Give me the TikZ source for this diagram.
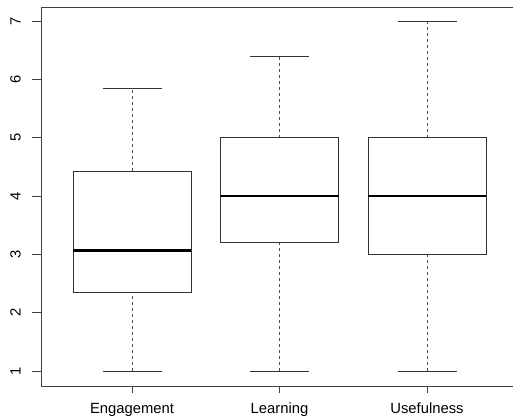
\documentclass[tikz,border=0pt]{standalone}
\usepackage{fontspec}
\setmainfont{Liberation Sans}
\begin{document}
\begin{tikzpicture}[x=1pt, y=58.33pt,
  every node/.style = {font=\fontsize{14.8}{17}\selectfont, inner sep=0pt},
  frame/.style = {draw=black!75, line width=0.8pt},
  boxline/.style = {draw=black!80, line width=0.7pt},
  whisker/.style = {draw=black!70, line width=0.7pt, dash pattern=on 3pt off 3pt},
  median/.style = {draw=black, line width=2.6pt},
  tickline/.style = {draw=black!75, line width=0.7pt}]
  \useasboundingbox (0,0.16) rectangle (513,7.36);
  % plot frame (right side falls outside the page)
  \draw[frame] (41,0.743) rectangle (515,7.24);
  % y axis
  \foreach \v in {1,...,7} {
    \draw[tickline] (32,\v) -- (41,\v);
    \node[rotate=90, anchor=base] (ylab\v) at (20.5,\v) {\v};
  }
  % boxes: name/x/min/q1/median/q3/max
  \foreach \name/\x/\lo/\qa/\md/\qb/\hi in {
      Engagement/132/1/2.35/3.07/4.43/5.85,
      Learning/279.5/1/3.2/4/5/6.4,
      Usefulness/427/1/3/4/5/7} {
    \draw[whisker] (\x,\lo) -- (\x,\qa);
    \draw[whisker] (\x,\qb) -- (\x,\hi);
    \draw[boxline] (\x-29.5,\lo) -- (\x+29.5,\lo);
    \draw[boxline] (\x-29.5,\hi) -- (\x+29.5,\hi);
    \draw[boxline] (\x-59,\qa) rectangle (\x+59,\qb);
    \draw[median] (\x-59,\md) -- (\x+59,\md);
    \draw[tickline] (\x,0.743) -- (\x,0.623);
    \node[anchor=base] (xlab\name) at (\x,0.275) {\name};
  }
\end{tikzpicture}
\end{document}
